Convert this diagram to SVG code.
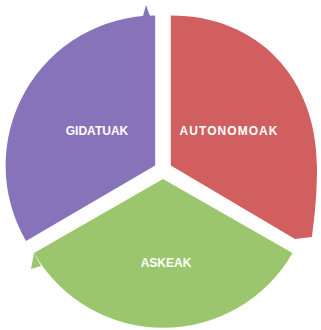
<svg xmlns="http://www.w3.org/2000/svg" width="321" height="330" viewBox="0 0 321 330">
  <style>
    .lbl { font-family: "Liberation Sans", Arial, sans-serif; font-weight: bold; font-size: 12px; fill: #ffffff; text-anchor: middle; }
    .purple { fill: #8773b9; }
    .red { fill: #d25f5f; }
    .green { fill: #9cc66e; }
  </style>
  <rect width="321" height="330" fill="#ffffff"/>
  <g id="gidatuak">
    <path class="purple" d="M155.2,165.5 L26,241 A150,150 0 0 1 155.2,15.5 Z"/>
    <polygon class="purple" points="143,16 146,5 150,16"/>
    <text class="lbl" x="97" y="134.5">GIDATUAK</text>
  </g>
  <g id="autonomoak">
    <path class="red" d="M170.8,165.5 L170.8,15.5 C258,15.5 317,78 317,167 C317,200 314,220 312,237 L295,239 Z"/>
    <text class="lbl" x="228.5" y="135" textLength="98" lengthAdjust="spacing">AUTONOMOAK</text>
  </g>
  <g id="askeak">
    <path class="green" d="M163,179 L292.5,253 A149,149 0 0 1 34,253 Z"/>
    <polygon class="green" points="34,253 31,269 41,266"/>
    <text class="lbl" x="166" y="267">ASKEAK</text>
  </g>
</svg>
